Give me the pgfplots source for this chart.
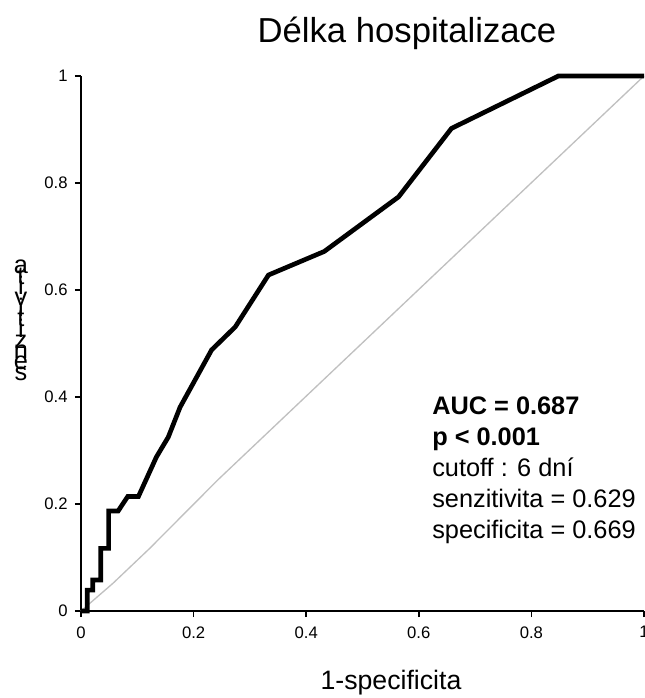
\documentclass[border=0pt]{standalone}
\usepackage{fontspec}
\setmainfont{Liberation Sans}
\usepackage{pgfplots}
\pgfplotsset{compat=1.18}
\definecolor{diaggray}{RGB}{192,192,192}

% y label drawn as upright letters stacked on top of each other
\newcommand\stackedlabel{\vbox{\fontsize{19}{8}\selectfont\lineskiplimit=-100pt\baselineskip=8pt
  \halign{\hfil##\hfil\cr a\cr t\cr i\cr v\cr i\cr t\cr i\cr z\cr n\cr e\cr s\cr}}}

\begin{document}
\begin{tikzpicture}
\begin{axis}[
  at={(0,0)}, anchor=origin,
  width=422.25pt, height=401.25pt, scale only axis,
  xmin=0, xmax=1, ymin=0, ymax=1,
  axis x line*=bottom, axis y line*=left,
  axis line style={-, line width=1.1pt},
  xtick={0,0.2,0.4,0.6,0.8,1}, ytick={0,0.2,0.4,0.6,0.8,1},
  xticklabels={0,0.2,0.4,0.6,0.8,1}, yticklabels={0,0.2,0.4,0.6,0.8,1},
  tick align=outside, major tick length=4.5pt,
  tick style={black, line width=1.1pt},
  ticklabel style={font=\fontsize{12.5}{14}\selectfont},
  xticklabel style={yshift=-3.5pt},
  yticklabel style={xshift=-2pt},
  clip=false,
]
\addplot[diaggray, line width=1pt] coordinates {
  (0,0)(0.057,0.052)(0.122,0.117)(0.243,0.245)(1,1)
};
\addplot[black, line width=3.5pt] coordinates {
  (0,0)(0.011,0)(0.011,0.039)(0.021,0.039)(0.021,0.058)(0.035,0.058)
  (0.035,0.117)(0.049,0.117)(0.049,0.187)(0.066,0.187)(0.083,0.214)
  (0.102,0.214)(0.134,0.288)(0.155,0.325)(0.176,0.381)(0.232,0.488)
  (0.274,0.531)(0.333,0.628)(0.432,0.672)(0.564,0.774)(0.658,0.902)
  (0.848,1)(1,1)
};
\end{axis}
\node[font=\fontsize{26}{30}\selectfont] at (244.5pt,433.5pt) {Délka hospitalizace};
\node[font=\fontsize{20}{24}\selectfont] at (232.5pt,-54pt) {1-specificita};
\node[inner sep=0pt] at (-45pt,218.25pt) {\stackedlabel};
\node[anchor=north west, inner sep=0pt, align=left,
  font=\fontsize{19}{23.25}\selectfont] at (263.25pt,160.5pt)
  {\textbf{AUC = 0.687}\\\textbf{p < 0.001}\\cutoff : 6 dní\\senzitivita = 0.629\\specificita = 0.669};
\pgfresetboundingbox
\useasboundingbox (-60.75pt,-65.25pt) rectangle (422.25pt,458.25pt);
\end{tikzpicture}
\end{document}
